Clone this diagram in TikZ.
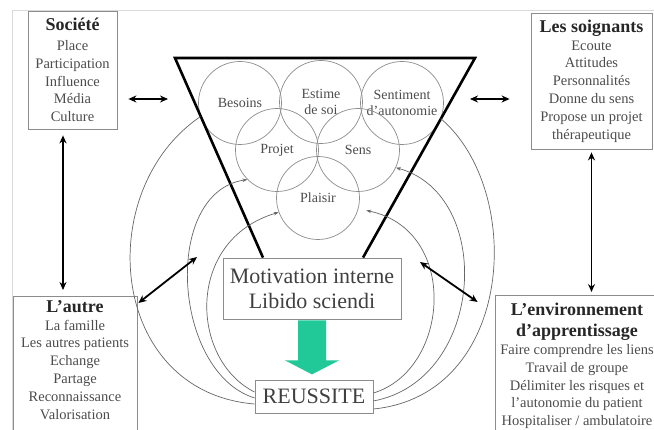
\documentclass[tikz,border=0pt]{standalone}
\usepackage{fontspec}
\setmainfont{Liberation Serif}
\usetikzlibrary{positioning, arrows.meta, calc}
\definecolor{arrowgreen}{RGB}{32,201,151}
\newcommand{\boxtitle}[1]{{\fontsize{18}{20}\selectfont\bfseries\color{black!85}#1}}

\begin{document}
\begin{tikzpicture}[x=1pt, y=-1pt,
squarednode/.style={rectangle, draw=black!45, line width=0.8pt, align=center, text=black!70, font=\fontsize{14.5}{17.8}\selectfont, inner sep=3pt},
circlenode/.style={circle, draw=black!45, line width=0.7pt, minimum size=83pt, align=center, text=black!70, font=\fontsize{14}{16}\selectfont, inner sep=0pt},
bignode/.style={rectangle, draw=black!45, line width=0.8pt, align=center, text=black!75, font=\fontsize{22}{25}\selectfont},
dblarrow/.style={{Stealth[length=8pt,width=7pt]}-{Stealth[length=8pt,width=7pt]}, line width=1.8pt},
curveline/.style={draw=black!60, line width=0.7pt},
curvearrow/.style={curveline, -{Stealth[length=5pt,width=3.5pt]}},
]
\useasboundingbox (0,0) rectangle (654,430);
\draw[black!15] (12,430) -- (12,10) -- (654,10);

%Boxes
\node[squarednode, minimum width=89pt, minimum height=118pt] (societe) at (72.5,70)
  {\boxtitle{Société}\\[2pt]Place\\Participation\\Influence\\Média\\Culture};
\node[squarednode, minimum width=121pt, minimum height=136pt] (soignants) at (591.5,81)
  {\boxtitle{Les soignants}\\Ecoute\\Attitudes\\Personnalités\\Donne du sens\\Propose un projet\\thérapeutique};
\node[squarednode, anchor=north, minimum width=124pt, text depth=20pt, inner ysep=4pt] (autre) at (75,296)
  {\boxtitle{L’autre}\\La famille\\Les autres patients\\Echange\\Partage\\Reconnaissance\\Valorisation};
\node[squarednode, anchor=north, minimum width=164pt, text depth=20pt, inner ysep=8pt] (env) at (577,295)
  {\boxtitle{L’environnement}\\[3pt]\boxtitle{d’apprentissage}\\Faire comprendre les liens\\Travail de groupe\\Délimiter les risques et\\l’autonomie du patient\\Hospitaliser / ambulatoire};

%Circles
\node[circlenode] (besoins)   at (240,103) {Besoins};
\node[circlenode] (estime)    at (321,102) {Estime\\de soi};
\node[circlenode] (autonomie) at (402,103) {Sentiment\\d’autonomie};
\node[circlenode] (projet)    at (277,150) {Projet};
\node[circlenode] (sens)      at (358,150) {Sens};
\node[circlenode] (plaisir)   at (318,198) {Plaisir};

%Centre
\node[bignode, minimum width=178pt, minimum height=61pt] (motiv) at (312,288.5) {Motivation interne\\Libido sciendi};
\node[bignode, minimum width=118pt, minimum height=33pt] (reussite) at (314,396.5) {REUSSITE};

%Triangle
\coordinate (tl) at (175,58);
\coordinate (tr) at (475,58);
\draw[line width=2.6pt, line join=miter] (motiv.north -| 263,0) -- (tl) -- (tr) -- (motiv.north -| 363,0);

%Green arrow
\fill[arrowgreen] ($(motiv.south)+(-14,1)$) -- ++(28,0) -- ++(0,40) -- ++(13,0) -- ++(-27,14) -- ++(-27,-14) -- ++(13,0) -- cycle;

%Curves
\draw[curveline] ($(reussite.west)+(0,7.5)$) .. controls (108,392) and (92,190) .. (besoins.199);
\draw[curvearrow] ($(reussite.west)+(0,1.5)$) .. controls (172,372) and (162,192) .. (projet.225);
\draw[curvearrow] ($(reussite.west)+(0,-4.5)$) .. controls (190,360) and (185,240) .. (plaisir.200);
\draw[curveline] ($(reussite.east)+(0,12.5)$) .. controls (515,395) and (525,190) .. (autonomie.338);
\draw[curvearrow] ($(reussite.east)+(0,4.5)$) .. controls (485,380) and (495,195) .. (sens.335);
\draw[curvearrow, shorten >=8pt] ($(reussite.east)+(0,-3.5)$) .. controls (450,370) and (460,230) .. (plaisir.345);

%Lines
\coordinate (sl) at (168,99);
\coordinate (sr) at (470,99);
\coordinate (vl) at ($(societe.south)+(-9.5,0)$);
\coordinate (dl) at (197,257);
\coordinate (dr) at (420,262);
\draw[dblarrow, shorten <=11pt] (societe.east |- sl) -- (sl);
\draw[dblarrow, shorten >=21pt] (sr) -- (soignants.west |- sr);
\draw[dblarrow, shorten <=6pt, shorten >=6pt] (vl) -- (vl |- autre.north);
\draw[dblarrow, shorten <=3pt, shorten >=3pt] (soignants.south) -- (soignants.south |- env.north);
\draw[dblarrow] ([xshift=1pt,yshift=-7pt]autre.north east) -- (dl);
\draw[dblarrow] (dr) -- ([xshift=-17pt,yshift=-7pt]env.north west);
\end{tikzpicture}
\end{document}
